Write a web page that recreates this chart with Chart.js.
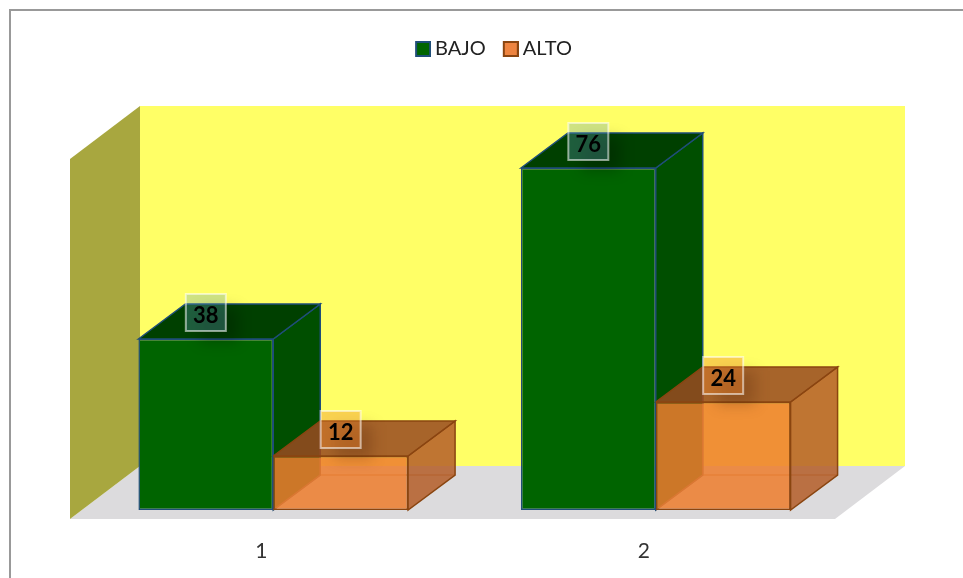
<!DOCTYPE html>
<html>
<head>
<meta charset="utf-8">
<style>
  body { margin: 0; background: #fff; }
  #marco { position: absolute; left: 9px; top: 9px; width: 954px; height: 569px; box-sizing: border-box;
           border-left: 2px solid #999; border-top: 2px solid #999; }
  canvas { position: absolute; left: 0; top: 0; }
</style>
<script src="https://cdn.jsdelivr.net/npm/chart.js@4"></script>
</head>
<body>
<canvas id="grafico" width="963" height="578"></canvas>
<div id="marco"></div>
<script>
const categorie = ['1', '2'];
const nomiSerie = ['BAJO', 'ALTO'];
const valoriBajo = [38, 76];
const valoriAlto = [12, 24];

// profondita' delle barre e del pavimento rispetto al piano frontale
const barDepth = { x: 47, y: 35 };
const floorFront = { x: -12, y: 9 };
const floorBack = { x: 58, y: 44 };

const stili = [
    {
        front: '#006400', side: '#004f00', top: '#004000', border: '#1f4e79',
        labelFill: 'rgba(97,160,193,0.31)', shadow: 'rgba(0,0,0,0.22)'
    },
    {
        front: 'rgba(238,126,46,0.86)', side: 'rgba(181,94,42,0.86)', top: 'rgba(153,74,33,0.86)', border: '#8a4510',
        labelFill: 'rgba(240,132,43,0.37)', shadow: 'rgba(60,20,0,0.22)'
    }
];

function poligono(ctx, punti, fill, stroke) {
    ctx.beginPath();
    punti.forEach((p, i) => i ? ctx.lineTo(p[0], p[1]) : ctx.moveTo(p[0], p[1]));
    ctx.closePath();
    ctx.fillStyle = fill;
    ctx.fill();
    if (stroke) {
        ctx.strokeStyle = stroke;
        ctx.lineWidth = 1.5;
        ctx.stroke();
    }
}

// quadratino della legenda: il canvas e' piu' largo, cosi' il testo resta vicino
function quadratino(fill, stroke) {
    const c = document.createElement('canvas');
    c.width = 22;
    c.height = 16;
    const g = c.getContext('2d');
    g.fillStyle = fill;
    g.fillRect(7, 1, 14, 14);
    g.strokeStyle = stroke;
    g.lineWidth = 2;
    g.strokeRect(7, 1, 14, 14);
    return c;
}

const scena3d = {
    id: 'scena3d',
    beforeLayout(chart) {
        // la legenda occupa tutto lo spazio sopra l'area del grafico
        const legenda = chart.legend;
        if (!legenda.fitOriginale) {
            legenda.fitOriginale = legenda.fit;
            legenda.fit = function () {
                this.fitOriginale();
                this.height = 150;
            };
        }
    },
    afterLayout(chart) {
        chart.legend.left += 29;
        chart.legend.right += 29;
        chart.legend.top += 22;
    },
    beforeDatasetsDraw(chart) {
        const ctx = chart.ctx;
        const a = chart.chartArea;
        const fl = a.left + floorFront.x, fr = a.right + floorFront.x, fb = a.bottom + floorFront.y;
        const bl = a.left + floorBack.x, br = a.right + floorBack.x, bb = a.bottom - floorBack.y;
        const wt = a.top - floorBack.y;

        poligono(ctx, [[bl, wt], [br, wt], [br, bb], [bl, bb]], '#ffff66');
        poligono(ctx, [[fl, fb], [fr, fb], [br, bb], [bl, bb]], '#dcdbdd');
        poligono(ctx, [[fl, a.top + floorFront.y], [bl, wt], [bl, bb], [fl, fb]], '#a8a73f');

        // facce laterali e superiori, dietro alla faccia frontale della barra
        chart.data.datasets.forEach((ds, d) => {
            chart.getDatasetMeta(d).data.forEach(bar => {
                const s = stili[d];
                const l = bar.x - bar.width / 2, r = bar.x + bar.width / 2;
                const dx = barDepth.x, dy = barDepth.y;
                if (d === 1) {
                    // spigoli nascosti, visibili attraverso il colore trasparente
                    ctx.strokeStyle = 'rgba(170,85,20,0.55)';
                    ctx.lineWidth = 1.5;
                    ctx.beginPath();
                    ctx.moveTo(l + dx, bar.y - dy);
                    ctx.lineTo(l + dx, bar.base - dy);
                    ctx.lineTo(r + dx, bar.base - dy);
                    ctx.moveTo(l + dx, bar.base - dy);
                    ctx.lineTo(l, bar.base);
                    ctx.stroke();
                }
                poligono(ctx, [[r, bar.y], [r + dx, bar.y - dy], [r + dx, bar.base - dy], [r, bar.base]], s.side, s.border);
                poligono(ctx, [[l, bar.y], [l + dx, bar.y - dy], [r + dx, bar.y - dy], [r, bar.y]], s.top, s.border);
            });
        });
    },
    afterDatasetsDraw(chart) {
        const ctx = chart.ctx;
        chart.data.datasets.forEach((ds, d) => {
            chart.getDatasetMeta(d).data.forEach((bar, i) => {
                const s = stili[d];
                const x = bar.x - 20, y = bar.y - 45;

                // ombra morbida sotto l'etichetta
                ctx.save();
                ctx.filter = 'blur(7px)';
                ctx.fillStyle = s.shadow;
                ctx.fillRect(x + 14, y + 14, 38, 34);
                ctx.restore();

                ctx.fillStyle = s.labelFill;
                ctx.fillRect(x, y, 40, 37);
                ctx.strokeStyle = 'rgba(255,255,255,0.55)';
                ctx.lineWidth = 2;
                ctx.strokeRect(x, y, 40, 37);

                ctx.fillStyle = '#000';
                ctx.font = 'bold 22px Lato';
                ctx.textAlign = 'center';
                ctx.textBaseline = 'middle';
                ctx.fillText(ds.data[i], bar.x, y + 21.5);
            });
        });
    }
};

new Chart(document.getElementById('grafico'), {
    type: 'bar',
    data: {
        labels: categorie,
        datasets: [
            {
                label: nomiSerie[0],
                data: valoriBajo,
                backgroundColor: stili[0].front,
                borderColor: stili[0].border,
                pointStyle: quadratino('#006400', '#1f4e79')
            },
            {
                label: nomiSerie[1],
                data: valoriAlto,
                backgroundColor: stili[1].front,
                borderColor: stili[1].border,
                pointStyle: quadratino('#ee8440', '#8a4510')
            }
        ]
    },
    options: {
        responsive: false,
        animation: false,
        layout: { padding: { left: 82, right: 116 } },
        datasets: {
            bar: {
                categoryPercentage: 0.705,
                barPercentage: 1,
                borderWidth: 1.5,
                borderSkipped: false
            }
        },
        scales: {
            x: {
                grid: { display: false },
                border: { display: false },
                ticks: {
                    color: '#333',
                    font: { family: 'Lato', size: 21 },
                    labelOffset: -12,
                    padding: 21
                },
                afterFit: s => { s.height = 68; }
            },
            y: {
                display: false,
                min: 0,
                max: 80
            }
        },
        plugins: {
            legend: {
                position: 'top',
                labels: {
                    usePointStyle: true,
                    boxWidth: 10,
                    padding: 17,
                    color: '#222',
                    font: { family: 'Lato', size: 20 }
                }
            },
            tooltip: { enabled: false }
        }
    },
    plugins: [scena3d]
});
</script>
</body>
</html>
